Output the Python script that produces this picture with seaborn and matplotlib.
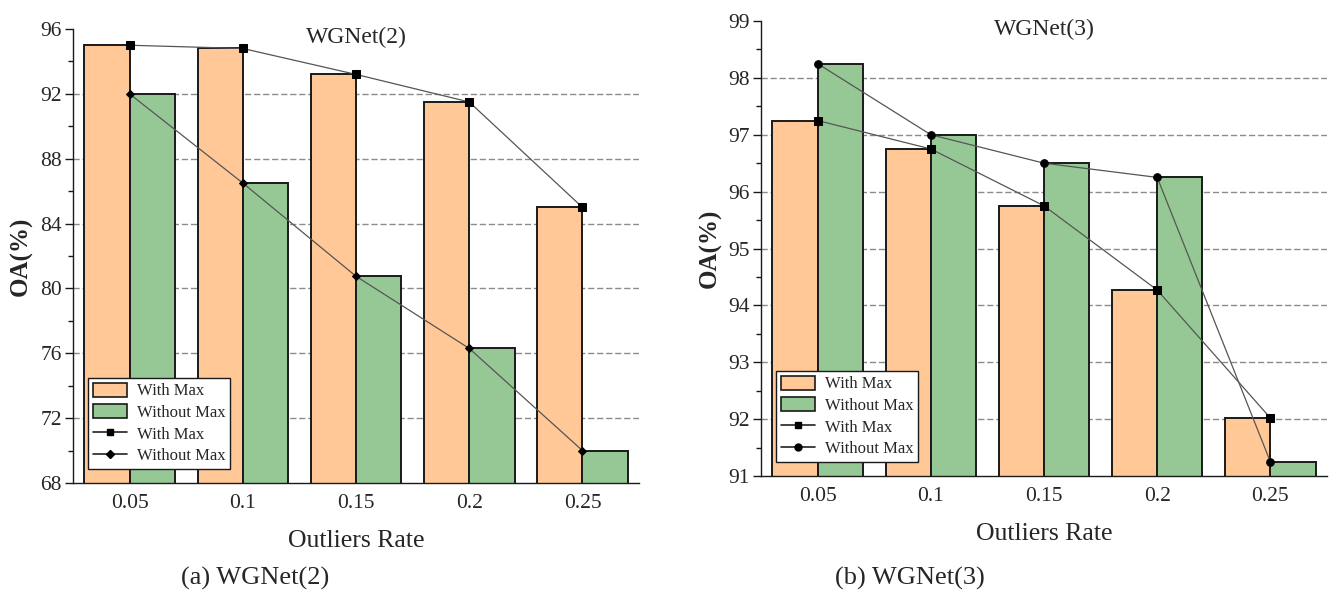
import numpy as np
import pandas as pd
import matplotlib
matplotlib.use("Agg")
import matplotlib.pyplot as plt
from matplotlib.patches import Patch
from matplotlib.lines import Line2D
from matplotlib.ticker import MultipleLocator
import seaborn as sns

# ---- data -------------------------------------------------------------
rates = ["0.05", "0.1", "0.15", "0.2", "0.25"]
methods = ["With Max", "Without Max"]

wgnet2_with = [95.0, 94.8, 93.2, 91.5, 85.0]
wgnet2_without = [92.0, 86.5, 80.75, 76.3, 70.0]

wgnet3_with = [97.25, 96.75, 95.75, 94.27, 92.02]
wgnet3_without = [98.25, 97.0, 96.5, 96.25, 91.25]

# ---- style ------------------------------------------------------------
sns.set_theme(style="white")
plt.rcParams["font.family"] = ["Liberation Serif", "DejaVu Serif"]
plt.rcParams["axes.edgecolor"] = "#1a1a1a"
plt.rcParams["axes.linewidth"] = 1.0

bar_colors = {"With Max": "#FFC896", "Without Max": "#96C896"}
edge = "#1a1a1a"
line_color = "#555555"

fig = plt.figure(figsize=(13.42, 5.96), dpi=100)


def panel(rect, with_vals, without_vals, ylim, major, minor, title,
          caption, caption_x, alt_marker, alt_size):
    ax = fig.add_axes(rect)
    df = pd.DataFrame({
        "rate": rates * 2,
        "method": [methods[0]] * len(rates) + [methods[1]] * len(rates),
        "oa": list(with_vals) + list(without_vals),
    })
    sns.barplot(data=df, x="rate", y="oa", hue="method", order=rates,
                hue_order=methods, palette=bar_colors, saturation=1,
                width=0.8, edgecolor=edge, linewidth=1.4, errorbar=None,
                legend=False, ax=ax, zorder=2)

    pos = np.arange(len(rates))
    sns.lineplot(x=pos, y=with_vals, ax=ax, color=line_color, lw=0.9,
                 marker="s", markersize=5.5, markerfacecolor="black",
                 markeredgecolor="black", zorder=3)
    sns.lineplot(x=pos, y=without_vals, ax=ax, color=line_color, lw=0.9,
                 marker=alt_marker, markersize=alt_size,
                 markerfacecolor="black", markeredgecolor="black", zorder=3)

    ax.set_xlim(-0.5, len(rates) - 0.5)
    ax.set_ylim(*ylim)
    ax.set_yticks(np.arange(ylim[0], ylim[1] + 0.001, major))
    ax.yaxis.set_minor_locator(MultipleLocator(minor))

    ax.set_axisbelow(True)
    ax.yaxis.grid(True, which="major", linestyle=(0, (4.5, 2.0)),
                  color="#8c8c8c", lw=1.0)
    ax.yaxis.get_gridlines()[-1].set_visible(False)
    ax.yaxis.get_gridlines()[0].set_visible(False)

    sns.despine(ax=ax)
    ax.tick_params(axis="y", which="major", direction="out", length=6,
                   width=1.0, color=edge, labelsize=15.5, pad=2,
                   left=True)
    ax.tick_params(axis="y", which="minor", direction="out", length=3.5,
                   width=1.0, color=edge, left=True)
    ax.tick_params(axis="x", length=0, labelsize=15.5, pad=8)

    ax.set_xlabel("Outliers Rate", fontsize=18.5, labelpad=12)
    ax.set_ylabel("OA(%)", fontsize=18, fontweight="bold", labelpad=5)
    ax.text(0.5, 0.982, title, transform=ax.transAxes, ha="center",
            va="center", fontsize=17)

    handles = [
        Patch(facecolor=bar_colors[methods[0]], edgecolor=edge, lw=1.2),
        Patch(facecolor=bar_colors[methods[1]], edgecolor=edge, lw=1.2),
        Line2D([], [], color="#222222", lw=1.2, marker="s", markersize=5,
               markerfacecolor="black", markeredgecolor="black"),
        Line2D([], [], color="#222222", lw=1.2, marker=alt_marker,
               markersize=alt_size - 0.5, markerfacecolor="black",
               markeredgecolor="black"),
    ]
    leg = ax.legend(handles, methods + methods, loc="lower left",
                    bbox_to_anchor=(0.027, 0.03), borderaxespad=0,
                    fontsize=12, frameon=True, fancybox=False,
                    framealpha=1, edgecolor=edge, handlelength=2.0,
                    handleheight=0.9, handletextpad=0.6, labelspacing=0.3,
                    borderpad=0.3)
    leg.get_frame().set_linewidth(1.0)

    fig.text(caption_x, 0.030, caption, ha="center", va="center",
             fontsize=19)
    return ax


panel([0.0544, 0.1896, 0.4218, 0.7617], wgnet2_with, wgnet2_without,
      (68, 96), 4, 2, "WGNet(2)", "(a) WGNet(2)", 0.19, "D", 4.5)
panel([0.5671, 0.2013, 0.4217, 0.7635], wgnet3_with, wgnet3_without,
      (91, 99), 1, 0.5, "WGNet(3)", "(b) WGNet(3)", 0.678, "o", 5.5)

fig.savefig("out.png", dpi=100)
